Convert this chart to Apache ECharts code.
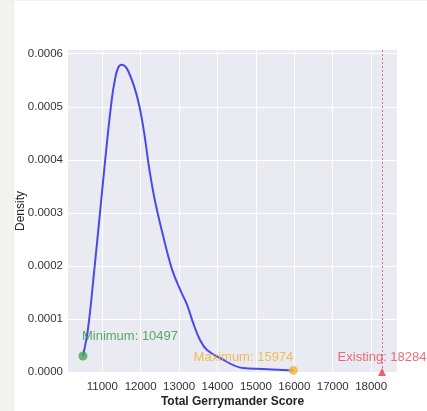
<!DOCTYPE html>
<html>
<head>
<meta charset="utf-8">
<script src="https://cdn.jsdelivr.net/npm/echarts@6/dist/echarts.min.js"></script>
<style>
html,body{margin:0;padding:0;background:#fff;}
#chart{width:427px;height:411px;}
</style>
</head>
<body>
<div id="chart"></div>
<script>
// KDE curve
const kdeX = [10497, 10625, 10793, 10948, 11103, 11246, 11330, 11414, 11504, 11600, 11685, 11840, 11970, 12099, 12228, 12383, 12590, 12823, 13030, 13211, 13366, 13547, 13728, 14064, 14659, 15176, 15974];
const kdeY = [0.0000302, 0.0000792, 0.0001925, 0.0003057, 0.0004189, 0.0005132, 0.000551, 0.0005736, 0.0005792, 0.000576, 0.000566, 0.000536, 0.000500, 0.000447, 0.000381, 0.000319, 0.000255, 0.000192, 0.000155, 0.000126, 0.0000925, 0.000060, 0.0000415, 0.0000264, 0.0000075, 0.0000057, 0.000003];
// annotated scores
const minScore = 10497, minDensity = 0.0000302;
const maxScore = 15974, maxDensity = 0.000003;
const existingScore = 18284, existingDensity = 0.0;
// ticks
const xTicks = [11000, 12000, 13000, 14000, 15000, 16000, 17000, 18000];
const yTicks = [0, 0.0001, 0.0002, 0.0003, 0.0004, 0.0005, 0.0006];
const xRange = [10108, 18673];
const yRange = [0, 0.000607];

const chart = echarts.init(document.getElementById('chart'), null, {renderer: 'canvas'});
const font = 'Liberation Sans, Arial, sans-serif';
chart.setOption({
  animation: false,
  backgroundColor: '#ffffff',
  graphic: [
    {type: 'rect', left: 0, top: 0, shape: {width: 13, height: 411}, style: {fill: '#f5f3ef'}, z: -1},
    {type: 'rect', left: 13, top: 0, shape: {width: 1, height: 411}, style: {fill: '#ecebe6'}, z: -1},
    {type: 'rect', left: 0, top: 0, shape: {width: 427, height: 1}, style: {fill: '#f0f0f0'}, z: -1}
  ],
  grid: {left: 68, top: 50, right: 30, bottom: 39, show: true, backgroundColor: '#eaeaf2', borderWidth: 0,
         containLabel: false, outerBoundsMode: 'none'},
  xAxis: {
    type: 'value', min: xRange[0], max: xRange[1],
    name: 'Total Gerrymander Score', nameLocation: 'middle', nameGap: 24, nameMoveOverlap: false,
    nameTextStyle: {fontFamily: font, fontSize: 12, fontWeight: 'bold', color: '#262626'},
    axisLine: {show: false}, axisTick: {show: false, customValues: xTicks},
    axisLabel: {customValues: xTicks, fontFamily: font, fontSize: 11.5, color: '#333', margin: 9, formatter: v => String(v)},
    splitLine: {show: true, lineStyle: {color: '#ffffff', width: 1}}
  },
  yAxis: {
    type: 'value', min: yRange[0], max: yRange[1],
    name: 'Density', nameLocation: 'middle', nameGap: 41, nameMoveOverlap: false,
    nameTextStyle: {fontFamily: font, fontSize: 12, color: '#262626'},
    axisLine: {show: false}, axisTick: {show: false, customValues: yTicks},
    axisLabel: {customValues: yTicks, fontFamily: font, fontSize: 11.5, color: '#333', margin: 5, formatter: v => v.toFixed(4)},
    splitLine: {show: true, lineStyle: {color: '#ffffff', width: 1}}
  },
  series: [
    {
      type: 'line', data: kdeX.map((x, i) => [x, kdeY[i]]),
      smooth: 0.4, showSymbol: false,
      lineStyle: {color: '#4a4ae8', width: 2}, z: 3,
      markLine: {
        silent: true, symbol: 'none', label: {show: false},
        lineStyle: {color: '#e8707a', type: [2, 2], width: 1},
        data: [{xAxis: existingScore}]
      }
    },
    {
      type: 'scatter', clip: false, z: 5,
      data: [
        {value: [minScore, minDensity], symbol: 'circle', symbolSize: 9,
         itemStyle: {color: '#45a852'},
         label: {show: true, position: 'inside', align: 'left', offset: [-1, -20], formatter: 'Minimum: ' + minScore, color: '#37963c', fontSize: 13, fontFamily: font}},
        {value: [maxScore, maxDensity], symbol: 'circle', symbolSize: 9,
         itemStyle: {color: '#f5b331'},
         label: {show: true, position: 'inside', align: 'right', offset: [0, -13], formatter: 'Maximum: ' + maxScore, color: '#f0b030', fontSize: 13, fontFamily: font}},
        {value: [existingScore, existingDensity], symbol: 'triangle', symbolSize: 8,
         itemStyle: {color: '#e0404c'},
         label: {show: true, position: 'inside', align: 'center', offset: [0, -15], formatter: 'Existing: ' + existingScore, color: '#e34a55', fontSize: 13, fontFamily: font}}
      ]
    }
  ]
});
</script>
</body>
</html>
